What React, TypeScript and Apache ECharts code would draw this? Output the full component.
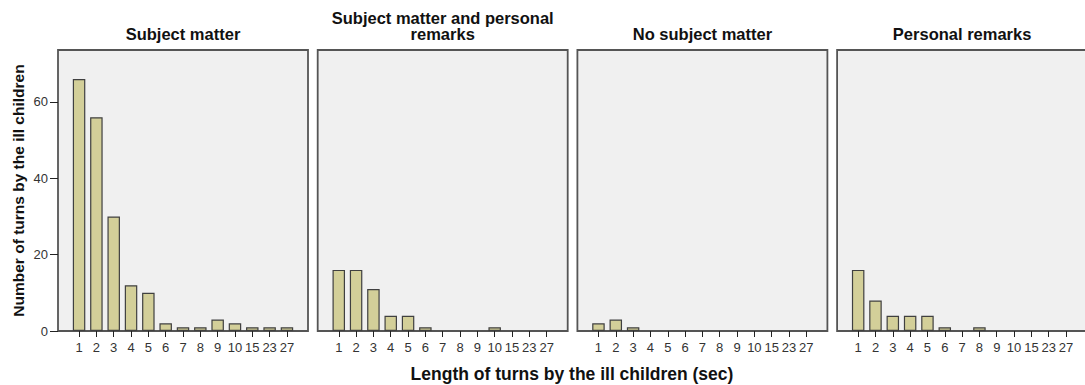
import React, { useEffect, useRef } from "react";
import * as echarts from "echarts";

const categories = ["1", "2", "3", "4", "5", "6", "7", "8", "9", "10", "15", "23", "27"];
const panelTitles = ["Subject matter", "Subject matter and personal\nremarks", "No subject matter", "Personal remarks"];
const subjectMatter = [66, 56, 30, 12, 10, 2, 1, 1, 3, 2, 1, 1, 1];
const subjectAndPersonal = [16, 16, 11, 4, 4, 1, 0, 0, 0, 1, 0, 0, 0];
const noSubjectMatter = [2, 3, 1, 0, 0, 0, 0, 0, 0, 0, 0, 0, 0];
const personalRemarks = [16, 8, 4, 4, 4, 1, 0, 1, 0, 0, 0, 0, 0];
const yTicks = [0, 20, 40, 60];
const yTitle = "Number of turns by the ill children";
const xTitle = "Length of turns by the ill children (sec)";

const seriesData = [subjectMatter, subjectAndPersonal, noSubjectMatter, personalRemarks];

export default function App() {
  const ref = useRef<HTMLDivElement>(null);
  useEffect(() => {
    if (!ref.current) return;
    const chart = echarts.init(ref.current, undefined, { renderer: "svg" });
    const font = "'Liberation Sans', Arial, sans-serif";
    const panelW = 250;
    const panelStep = 259.7;
    const panelLeft0 = 58;
    const inset = 12.4;
    const top = 50;
    const height = 281;

    const grids: any[] = [];
    const xAxes: any[] = [];
    const yAxes: any[] = [];
    const series: any[] = [];
    const graphics: any[] = [];

    seriesData.forEach((data, i) => {
      const pl = panelLeft0 + i * panelStep;
      grids.push({ left: pl + inset, width: panelW - 2 * inset, top, height });
      graphics.push({
        type: "rect",
        z: -10,
        shape: { x: pl, y: top, width: panelW, height },
        style: { fill: "#F0F0F0", stroke: "#555555", lineWidth: 1.8 },
        silent: true,
      });
      graphics.push({
        type: "text",
        x: pl + panelW / 2,
        y: i === 1 ? 26 : 34,
        style: {
          text: panelTitles[i],
          align: "center",
          verticalAlign: "middle",
          fontSize: 16.5,
          lineHeight: 16.5,
          fontWeight: "bold",
          fontFamily: font,
          fill: "#111",
        },
      });
      xAxes.push({
        type: "category",
        gridIndex: i,
        data: categories,
        boundaryGap: true,
        axisLine: { show: false },
        axisTick: { show: true, alignWithLabel: true, length: 6, lineStyle: { color: "#222", width: 1 } },
        axisLabel: { color: "#333", fontSize: 13, fontFamily: font, margin: 10, interval: 0 },
        splitLine: { show: false },
      });
      yAxes.push({
        type: "value",
        gridIndex: i,
        min: 0,
        max: 73.6,
        offset: inset,
        show: i === 0,
        axisLine: { show: false },
        axisTick: { show: true, length: 8, lineStyle: { color: "#222" }, customValues: yTicks },
        axisLabel: { color: "#333", fontSize: 13, fontFamily: font, margin: 10, customValues: yTicks },
        splitLine: { show: false },
        name: i === 0 ? yTitle : "",
        nameLocation: "middle",
        nameRotate: 90,
        nameGap: 32,
        nameTextStyle: { fontSize: 15.5, fontWeight: "bold", fontFamily: font, color: "#111" },
      });
      series.push({
        type: "bar",
        xAxisIndex: i,
        yAxisIndex: i,
        data: data.map((v) => (v === 0 ? "-" : v)),
        barWidth: 12.5,
        itemStyle: { color: "#D3CF99", borderColor: "#404040", borderWidth: 1.2 },
        z: 2,
      });
    });

    graphics.push({
      type: "text",
      x: 572,
      y: 374,
      style: {
        text: xTitle,
        align: "center",
        verticalAlign: "middle",
        fontSize: 17.5,
        fontWeight: "bold",
        fontFamily: font,
        fill: "#111",
      },
    });

    chart.setOption({
      animation: false,
      backgroundColor: "#ffffff",
      grid: grids,
      xAxis: xAxes,
      yAxis: yAxes,
      series,
      graphic: graphics,
    });
    return () => chart.dispose();
  }, []);
  return <div ref={ref} style={{ position: "fixed", left: 0, top: 0, width: 1085, height: 385 }} />;
}
